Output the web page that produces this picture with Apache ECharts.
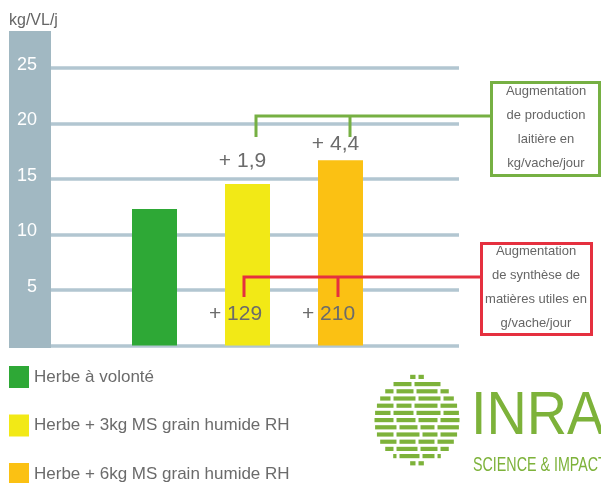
<!DOCTYPE html>
<html>
<head>
<meta charset="utf-8">
<script src="https://cdn.jsdelivr.net/npm/echarts@6/dist/echarts.min.js"></script>
<style>
  html, body { margin: 0; padding: 0; background: #fff; }
  #chart { width: 601px; height: 483px; }
</style>
</head>
<body>
<div id="chart"></div>
<script>
// rations compared
var categories = ['Herbe à volonté', 'Herbe + 3kg MS grain humide RH', 'Herbe + 6kg MS grain humide RH']
// milk yield, kg/VL/j
var milkYield = [12.3, 14.55, 16.7]
// gains written above / inside the bars
var milkGain = ['', '+ 1,9', '+ 4,4']
var solidsGain = ['', '+ 129', '+ 210']
var barColors = ['#2ea836', '#f2e916', '#fbc113']
var yMin = 0
var yMax = 25
var yStep = 5

var chart = echarts.init(document.getElementById('chart'))

var series = categories.map(function (name, i) {
  return {
    name: name,
    type: 'bar',
    xAxisIndex: 1,
    yAxisIndex: 1,
    barWidth: 45,
    barGap: '-100%',
    itemStyle: { color: barColors[i] },
    label: {
      show: true,
      position: 'top',
      distance: i === 1 ? 12 : 5,
      offset: [-5, 0],
      color: '#6b6b6b',
      fontSize: 21,
      fontFamily: 'Liberation Sans, Arial, sans-serif',
      formatter: function () { return milkGain[i] }
    },
    data: categories.map(function (c, j) { return j === i ? milkYield[i] : '-' })
  }
})

// transparent overlay that only carries the lower labels
series.push({
  name: 'solids',
  type: 'bar',
  xAxisIndex: 1,
  yAxisIndex: 1,
  barWidth: 45,
  barGap: '-100%',
  silent: true,
  itemStyle: { color: 'rgba(0,0,0,0)' },
  label: {
    show: true,
    position: 'insideBottom',
    distance: 21,
    offset: [-12, 0],
    color: '#6b6b6b',
    fontSize: 21,
    fontFamily: 'Liberation Sans, Arial, sans-serif',
    formatter: function (p) { return solidsGain[p.dataIndex] }
  },
  data: milkYield
})

// one legend block per row, the last one runs off the bottom edge
var legends = categories.map(function (name, i) {
  return {
    orient: 'vertical',
    left: 4,
    top: 361 + i * 48.5,
    icon: 'rect',
    itemWidth: 20,
    itemHeight: 22,
    data: [name],
    selectedMode: false,
    textStyle: { color: '#6b6b6b', fontSize: 17, fontFamily: 'Liberation Sans, Arial, sans-serif' }
  }
})

// INRA logo: striped disc
var logo = []
var cx = 417, cy = 420, r = 44
for (var k = -6; k <= 6; k++) {
  var dy = k * 7.2
  var half = Math.sqrt(r * r - dy * dy)
  var cuts = [cx - half, cx - 22 + (k % 2) * 3, cx + (k % 3) * 2, cx + 22 - (k % 2) * 3, cx + half]
  for (var s = 0; s < cuts.length - 1; s++) {
    var x0 = Math.max(cuts[s], cx - half) + 1.5
    var x1 = Math.min(cuts[s + 1], cx + half) - 1.5
    if (x1 - x0 > 2) {
      logo.push({
        type: 'rect',
        shape: { x: x0, y: cy + dy - 2, width: x1 - x0, height: 4.2 },
        style: { fill: '#7db23a' }
      })
    }
  }
}

var boxText = {
  fill: '#666',
  fontSize: 13,
  fontFamily: 'Liberation Sans, Arial, sans-serif',
  align: 'center',
  verticalAlign: 'top',
  lineHeight: 24
}

var option = {
  animation: false,
  title: {
    text: 'kg/VL/j',
    left: 4,
    top: 8,
    textStyle: { color: '#666', fontSize: 16, fontWeight: 'normal', fontFamily: 'Liberation Sans, Arial, sans-serif' }
  },
  legend: legends,
  grid: [
    { left: 51, right: 142, top: 68, bottom: 137.5 },
    { left: 108, width: 279, top: 68, bottom: 137.5 }
  ],
  xAxis: [
    { type: 'category', gridIndex: 0, show: false, data: ['x'] },
    { type: 'category', gridIndex: 1, show: false, data: categories }
  ],
  yAxis: [
    {
      type: 'value',
      gridIndex: 0,
      min: yMin,
      max: yMax,
      interval: yStep,
      axisLine: { show: false },
      axisTick: { show: false },
      axisLabel: {
        margin: 14,
        color: '#fff',
        fontSize: 18,
        fontFamily: 'Liberation Sans, Arial, sans-serif',
        verticalAlign: 'bottom',
        lineHeight: 6,
        formatter: function (v) { return v === 0 ? '' : v }
      },
      splitLine: { lineStyle: { color: '#b2c6d1', width: 3.5 } }
    },
    { type: 'value', gridIndex: 1, min: yMin, max: yMax, interval: yStep, show: false, splitLine: { show: false } }
  ],
  graphic: [
    { type: 'rect', z: -10, shape: { x: 9, y: 31, width: 42, height: 317 }, style: { fill: '#a1b8c2' } },
    // milk bracket and box
    { type: 'polyline', z: 100, shape: { points: [[256, 137], [256, 116], [491, 116]] }, style: { stroke: '#76b043', lineWidth: 3, fill: null } },
    { type: 'line', z: 100, shape: { x1: 350, y1: 116, x2: 350, y2: 137 }, style: { stroke: '#76b043', lineWidth: 3 } },
    { type: 'rect', z: 100, shape: { x: 491.5, y: 82.5, width: 108, height: 93 }, style: { stroke: '#76b043', lineWidth: 3, fill: '#fff' } },
    { type: 'text', z: 101, x: 546, y: 79, style: Object.assign({ text: 'Augmentation\nde production\nlaitière en\nkg/vache/jour' }, boxText) },
    // solids bracket and box
    { type: 'polyline', z: 100, shape: { points: [[244, 297], [244, 277], [481, 277]] }, style: { stroke: '#e5303f', lineWidth: 3, fill: null } },
    { type: 'line', z: 100, shape: { x1: 338, y1: 277, x2: 338, y2: 297 }, style: { stroke: '#e5303f', lineWidth: 3 } },
    { type: 'rect', z: 100, shape: { x: 481.5, y: 243.5, width: 110, height: 91 }, style: { stroke: '#e5303f', lineWidth: 3, fill: '#fff' } },
    { type: 'text', z: 101, x: 536, y: 239, style: Object.assign({ text: 'Augmentation\nde synthèse de\nmatières utiles en\ng/vache/jour' }, boxText) },
    // logo
    { type: 'group', children: logo },
    { type: 'text', x: 471, y: 386, scaleX: 0.9, style: { text: 'INRA', fill: '#7db23a', fontSize: 62, fontFamily: 'Liberation Sans, Arial, sans-serif' } },
    { type: 'text', x: 473, y: 455, scaleX: 0.68, style: { text: 'SCIENCE & IMPACT', fill: '#7db23a', fontSize: 21, fontFamily: 'Liberation Sans, Arial, sans-serif' } }
  ],
  series: series
}

chart.setOption(option)
</script>
</body>
</html>
